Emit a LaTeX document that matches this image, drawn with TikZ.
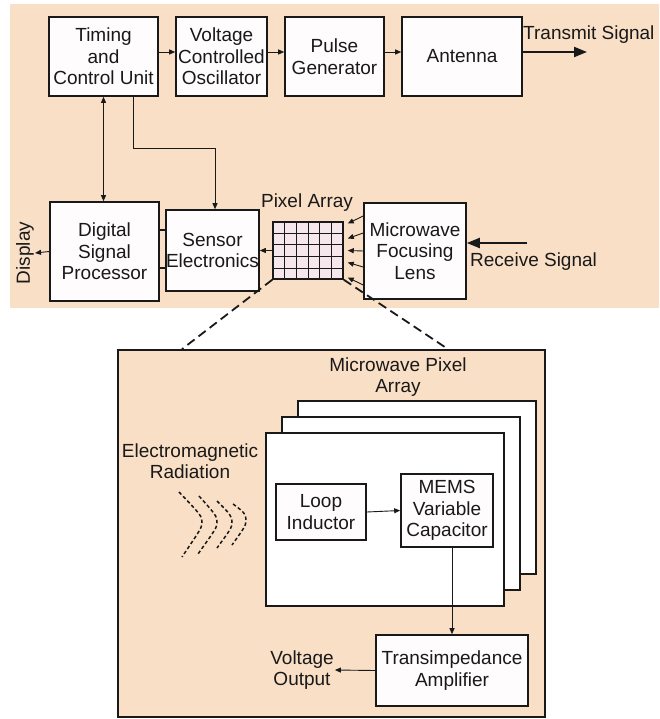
\documentclass[tikz,border=0pt]{standalone}
\usepackage{fontspec}
\setmainfont{Liberation Sans}
\usetikzlibrary{arrows.meta,calc}
\definecolor{peach}{RGB}{249,223,198}
\definecolor{paper}{RGB}{254,252,253}
\definecolor{cellpink}{RGB}{246,231,236}
\definecolor{ink}{RGB}{25,25,25}

\begin{document}
\begin{tikzpicture}[x=1pt,y=-1pt,
  box/.style={draw=ink, line width=1.6pt, fill=paper, text=ink, inner sep=0pt, align=center, font=\fontsize{19}{21.5}\selectfont},
  tag/.style={text=ink, inner sep=1pt, align=center, font=\fontsize{19}{21.5}\selectfont},
  sheet/.style={draw=ink, line width=1.6pt, fill=white, minimum width=238pt, minimum height=173pt, inner sep=0pt},
  link/.style={draw=ink, line width=0.9pt, -{Triangle[length=6pt,width=5pt]}},
  bigarrow/.style={draw=ink, line width=2pt, -{Triangle[length=13pt,width=10pt]}},
  zoomline/.style={draw=ink, line width=1.8pt, dash pattern=on 9pt off 5pt},
  wave/.style={draw=ink, line width=1.5pt, dash pattern=on 3.5pt off 2.5pt}]
\useasboundingbox (0,0) rectangle (659,719);
% Upper panel
\fill[peach] (10,4) rectangle (659,308);
% Transmit chain
\node[box, minimum width=109pt, minimum height=79pt] (timing) at (103.5,56.5) {Timing\\and\\Control Unit};
\node[box, minimum width=91pt, minimum height=79pt] (vco) at (221.5,56.5) {Voltage\\Controlled\\Oscillator};
\node[box, minimum width=99pt, minimum height=79pt] (pulse) at (334.5,56.5) {Pulse\\Generator};
\node[box, minimum width=120pt, minimum height=79pt] (antenna) at (462,56.5) {Antenna};
\draw[link] ([yshift=4.5pt]timing.east) -- ([yshift=4.5pt]vco.west);
\draw[link] ([yshift=4.5pt]vco.east) -- ([yshift=4.5pt]pulse.west);
\draw[link] ([yshift=4.5pt]pulse.east) -- ([yshift=4.5pt]antenna.west);
\coordinate (txend) at (587,52);
\draw[bigarrow] ([yshift=4.5pt]antenna.east) -- (txend);
\node[tag, anchor=west] (txlabel) at (522,35) {Transmit Signal};
% Receive chain
\node[box, minimum width=109pt, minimum height=99pt] (dsp) at (104.5,251.5) {Digital\\Signal\\Processor};
\node[box, minimum width=93pt, minimum height=81pt] (sensor) at (212.5,250.5) {Sensor\\Electronics};
\node[draw=ink, line width=1.5pt, fill=cellpink, minimum width=70pt, minimum height=57pt, inner sep=0pt] (grid) at (308,250.5) {};
\foreach \c in {1,...,5}
  \draw[ink, line width=0.9pt] ($(grid.north west)!{\c/6}!(grid.north east)$) -- ($(grid.south west)!{\c/6}!(grid.south east)$);
\foreach \r in {1,...,4}
  \draw[ink, line width=0.9pt] ($(grid.north west)!{\r/5}!(grid.south west)$) -- ($(grid.north east)!{\r/5}!(grid.south east)$);
\node[draw=ink, line width=1.5pt, minimum width=70pt, minimum height=57pt, inner sep=0pt] at (grid) {};
\node[tag] (pixlabel) at (307,203) {Pixel Array};
\node[box, minimum width=102pt, minimum height=96pt] (lens) at (415,251) {Microwave\\Focusing\\Lens};
\node[tag, rotate=90] (display) at (25,253) {Display};
\draw[link] (dsp.west) -- (display.south);
\draw[link] (grid.west) -- (sensor.east);
\draw[ink, line width=1.3pt] ([yshift=21.5pt]dsp.east) -- ([yshift=21.5pt]dsp.east -| sensor.west);
\draw[ink, line width=1.3pt] ([yshift=-16.5pt]dsp.east) -- ([yshift=-16.5pt]dsp.east -| sensor.west);
\foreach \s/\t in {35pt/27pt, 18pt/12pt, 0pt/0pt, -16pt/-12pt, -34pt/-27pt}
  \draw[link] ([yshift=\s]lens.west) -- ([xshift=4pt,yshift=\t]grid.east);
\coordinate (rxstart) at (527,243);
\draw[bigarrow] (rxstart) -- (rxstart -| lens.east);
\node[tag, anchor=west] (rxlabel) at (469,262) {Receive Signal};
% Control links
\draw[ink, line width=0.9pt, {Triangle[length=6pt,width=5pt]}-{Triangle[length=6pt,width=5pt]}] (timing.south) -- (timing.south |- dsp.north);
\draw[link] ([xshift=29.5pt]timing.south) -- ++(0,52) -| ([xshift=2.5pt]sensor.north);
% Pixel detail
\node[draw=ink, line width=1.8pt, fill=peach, minimum width=427pt, minimum height=367pt, inner sep=0pt] (zoombox) at (331.5,533.5) {};
\draw[zoomline] (grid.south west) -- ([xshift=-149.5pt]zoombox.north);
\draw[zoomline] (grid.south east) -- ([xshift=116.5pt]zoombox.north);
\node[tag] (mpalabel) at (398,377) {Microwave Pixel\\Array};
\node[sheet] (sheet3) at (417,487.5) {};
\node[sheet] (sheet2) at (401,503.5) {};
\node[sheet] (sheet1) at (385,519.5) {};
\node[tag] (emlabel) at (190,461) {Electromagnetic\\Radiation};
\foreach \tx/\ty/\px/\py/\bx/\by in {179/492/202/522/182/557, 199/496/217/522/198/554, 217/501/232/522/217/548, 233/504/246/520/232/545}
  \draw[wave] (\tx,\ty) .. controls (\px-2,\py-8) and (\px,\py-6) .. (\px,\py) .. controls (\px,\py+6) and (\px-2,\py+8) .. (\bx,\by);
\node[box, minimum width=90pt, minimum height=56pt] (loop) at (321,512) {Loop\\Inductor};
\node[box, minimum width=92pt, minimum height=73pt] (mems) at (447,510.5) {MEMS\\Variable\\Capacitor};
\node[box, minimum width=152pt, minimum height=71pt] (tia) at (452,670.5) {Transimpedance\\Amplifier};
\node[tag] (vout) at (302,670) {Voltage\\Output};
\draw[link] (loop.east) -- (mems.west);
\draw[link] ([xshift=5pt]mems.south) -- ([xshift=5pt]mems.south |- tia.north);
\draw[link] (tia.west) -- (vout.east);
\end{tikzpicture}
\end{document}
